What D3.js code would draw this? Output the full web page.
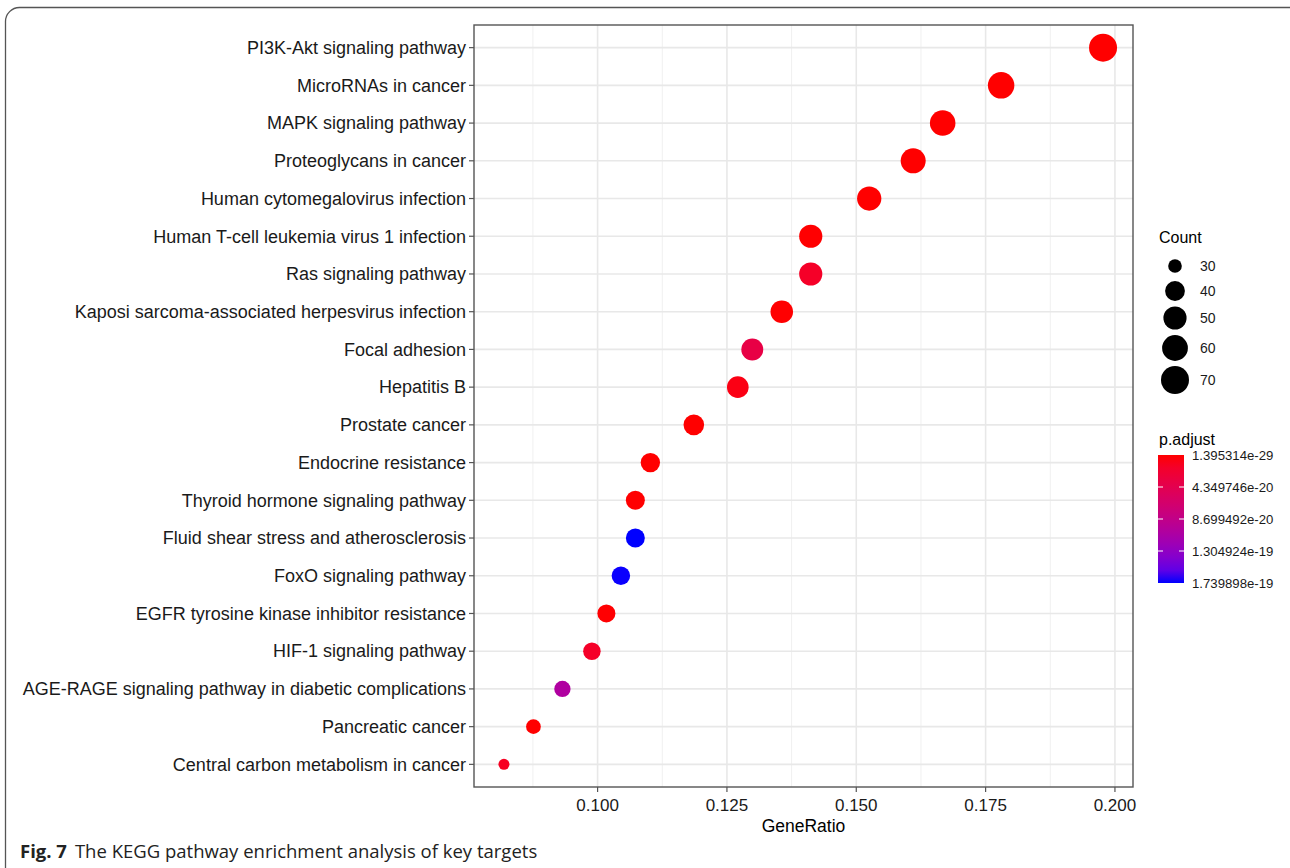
<!DOCTYPE html>
<html>
<head>
<meta charset="utf-8">
<script src="https://cdn.jsdelivr.net/npm/d3@7"></script>
<style>
  body { margin: 0; background: #fff; }
  svg { display: block; }
</style>
</head>
<body>
<svg id="chart" width="1290" height="868"></svg>
<script>
// data KEGG enrichment (urutan dari atas ke bawah)
const pathways = [
  "PI3K-Akt signaling pathway",
  "MicroRNAs in cancer",
  "MAPK signaling pathway",
  "Proteoglycans in cancer",
  "Human cytomegalovirus infection",
  "Human T-cell leukemia virus 1 infection",
  "Ras signaling pathway",
  "Kaposi sarcoma-associated herpesvirus infection",
  "Focal adhesion",
  "Hepatitis B",
  "Prostate cancer",
  "Endocrine resistance",
  "Thyroid hormone signaling pathway",
  "Fluid shear stress and atherosclerosis",
  "FoxO signaling pathway",
  "EGFR tyrosine kinase inhibitor resistance",
  "HIF-1 signaling pathway",
  "AGE-RAGE signaling pathway in diabetic complications",
  "Pancreatic cancer",
  "Central carbon metabolism in cancer"
];
const geneRatio = [0.1977, 0.1780, 0.1667, 0.1610, 0.1525, 0.1412, 0.1412, 0.1356, 0.1299,
                   0.1271, 0.1186, 0.1102, 0.1073, 0.1073, 0.1045, 0.1017, 0.0989, 0.0932, 0.0876, 0.0819];
const counts = [70, 63, 59, 57, 54, 50, 50, 48, 46, 45, 42, 39, 38, 38, 37, 36, 35, 33, 31, 29];
const pAdjust = [1.4e-29, 2e-24, 5e-25, 1e-24, 3e-24, 4e-22, 1.6e-20, 2e-22, 3.6e-20, 6e-21,
                 1e-22, 3e-23, 2e-22, 1.739898e-19, 1.735e-19, 5e-22, 1.6e-20, 1.05e-19, 1e-22, 1.3e-20];

const countBreaks = [30, 40, 50, 60, 70];
const pBreaks = [1.395314e-29, 4.349746e-20, 8.699492e-20, 1.304924e-19, 1.739898e-19];
const pLabels = ["1.395314e-29", "4.349746e-20", "8.699492e-20", "1.304924e-19", "1.739898e-19"];

const data = pathways.map((p, i) => ({ name: p, ratio: geneRatio[i], count: counts[i], p: pAdjust[i] }));

const svg = d3.select("#chart");
const font = "Arial, 'Liberation Sans', Helvetica, sans-serif";

// bingkai luar
svg.append("rect")
  .attr("x", 5.5).attr("y", 7.5).attr("width", 1300).attr("height", 880)
  .attr("rx", 14).attr("fill", "none").attr("stroke", "#555").attr("stroke-width", 1.3);

const panel = { left: 474, right: 1133, top: 25, bottom: 787 };

// skala x dengan ekspansi 5% seperti ggplot
const ext = d3.extent(geneRatio);
const pad = (ext[1] - ext[0]) * 0.05;
const x = d3.scaleLinear().domain([ext[0] - pad, ext[1] + pad]).range([panel.left, panel.right]);

const unit = (panel.bottom - panel.top) / (pathways.length - 1 + 1.2);
const y = d => panel.top + unit * (0.6 + pathways.indexOf(d));

// radius: rescale lalu akar (area_pal)
const rScale = d3.scalePow().exponent(0.5).domain([0, 41]).range([5.5, 14]);
const r = c => rScale(c - 29);

const pMin = pBreaks[0], pMax = pBreaks[4];
const colorInterp = d3.interpolateLab("#ff0000", "#0000ff");
const color = d3.scaleLinear().domain([pMin, pMax]).range([0, 1]).clamp(true);

const g = svg.append("g");

// grid minor
const major = [0.1, 0.125, 0.15, 0.175, 0.2];
const minor = [0.0875, 0.1125, 0.1375, 0.1625, 0.1875];
g.selectAll("line.minor").data(minor).enter().append("line")
  .attr("x1", d => x(d)).attr("x2", d => x(d))
  .attr("y1", panel.top).attr("y2", panel.bottom)
  .attr("stroke", "#f0f0f0").attr("stroke-width", 1);
g.selectAll("line.majx").data(major).enter().append("line")
  .attr("x1", d => x(d)).attr("x2", d => x(d))
  .attr("y1", panel.top).attr("y2", panel.bottom)
  .attr("stroke", "#e8e8e8").attr("stroke-width", 1.6);
g.selectAll("line.majy").data(pathways).enter().append("line")
  .attr("x1", panel.left).attr("x2", panel.right)
  .attr("y1", d => y(d)).attr("y2", d => y(d))
  .attr("stroke", "#e8e8e8").attr("stroke-width", 1.6);

// titik
g.selectAll("circle.pt").data(data).enter().append("circle")
  .attr("cx", d => x(d.ratio))
  .attr("cy", d => y(d.name))
  .attr("r", d => r(d.count))
  .attr("fill", d => colorInterp(color(d.p)));

// border panel
svg.append("rect")
  .attr("x", panel.left).attr("y", panel.top)
  .attr("width", panel.right - panel.left).attr("height", panel.bottom - panel.top)
  .attr("fill", "none").attr("stroke", "#555").attr("stroke-width", 1.4);

// sumbu y
pathways.forEach(p => {
  svg.append("line").attr("x1", panel.left - 5).attr("x2", panel.left)
    .attr("y1", y(p)).attr("y2", y(p)).attr("stroke", "#555").attr("stroke-width", 1.2);
  svg.append("text").attr("x", panel.left - 8).attr("y", y(p)).attr("dy", "0.35em")
    .attr("text-anchor", "end").attr("font-family", font).attr("font-size", 18)
    .attr("fill", "#1a1a1a").text(p);
});

// sumbu x
major.forEach(v => {
  svg.append("line").attr("x1", x(v)).attr("x2", x(v))
    .attr("y1", panel.bottom).attr("y2", panel.bottom + 5).attr("stroke", "#555").attr("stroke-width", 1.2);
  svg.append("text").attr("x", x(v)).attr("y", panel.bottom + 24)
    .attr("text-anchor", "middle").attr("font-family", font).attr("font-size", 17)
    .attr("fill", "#1a1a1a").text(d3.format(".3f")(v));
});
svg.append("text").attr("x", (panel.left + panel.right) / 2).attr("y", panel.bottom + 45)
  .attr("text-anchor", "middle").attr("font-family", font).attr("font-size", 17.5)
  .attr("fill", "#000").text("GeneRatio");

// legenda Count
svg.append("text").attr("x", 1159).attr("y", 243).attr("font-family", font)
  .attr("font-size", 16).attr("fill", "#000").text("Count");
const countY = [266, 291, 318, 348, 380];
countBreaks.forEach((c, i) => {
  svg.append("circle").attr("cx", 1175).attr("cy", countY[i]).attr("r", r(c)).attr("fill", "#000");
  svg.append("text").attr("x", 1200).attr("y", countY[i]).attr("dy", "0.35em")
    .attr("font-family", font).attr("font-size", 14).attr("fill", "#1a1a1a").text(c);
});

// legenda p.adjust
svg.append("text").attr("x", 1159).attr("y", 445).attr("font-family", font)
  .attr("font-size", 16).attr("fill", "#000").text("p.adjust");
const cb = { x: 1158, y: 455, w: 26, h: 128 };
const defs = svg.append("defs");
const grad = defs.append("linearGradient").attr("id", "pgrad")
  .attr("x1", 0).attr("y1", 0).attr("x2", 0).attr("y2", 1);
d3.range(0, 1.0001, 0.1).forEach(t => {
  grad.append("stop").attr("offset", t).attr("stop-color", colorInterp(t));
});
svg.append("rect").attr("x", cb.x).attr("y", cb.y).attr("width", cb.w).attr("height", cb.h)
  .attr("fill", "url(#pgrad)");
const cbScale = d3.scaleLinear().domain([pMin, pMax]).range([cb.y, cb.y + cb.h]);
pBreaks.forEach((b, i) => {
  const yy = cbScale(b);
  if (i > 0 && i < pBreaks.length - 1) {
    svg.append("line").attr("x1", cb.x).attr("x2", cb.x + 5).attr("y1", yy).attr("y2", yy)
      .attr("stroke", "#fff").attr("stroke-width", 1);
    svg.append("line").attr("x1", cb.x + cb.w - 5).attr("x2", cb.x + cb.w).attr("y1", yy).attr("y2", yy)
      .attr("stroke", "#fff").attr("stroke-width", 1);
  }
  svg.append("text").attr("x", 1192).attr("y", yy).attr("dy", "0.35em")
    .attr("font-family", font).attr("font-size", 13.2).attr("fill", "#1a1a1a").text(pLabels[i]);
});

// keterangan gambar
const cap = svg.append("text").attr("x", 20).attr("y", 858)
  .attr("font-family", "'Open Sans', sans-serif").attr("font-size", 18.5).attr("fill", "#222");
cap.append("tspan").attr("font-weight", "bold").text("Fig. 7");
cap.append("tspan").attr("dx", 8).text("The KEGG pathway enrichment analysis of key targets");
</script>
</body>
</html>
